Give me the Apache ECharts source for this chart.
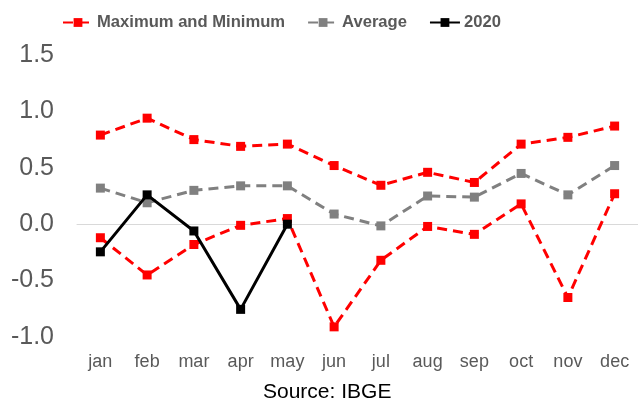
<!DOCTYPE html>
<html><head><meta charset="utf-8">
<script src="https://cdn.jsdelivr.net/npm/echarts@6/dist/echarts.min.js"></script>
<style>html,body{margin:0;padding:0;background:#fff}#c{width:638px;height:402px}</style>
</head><body><div id="c"></div>
<script>
const months = ['jan','feb','mar','apr','may','jun','jul','aug','sep','oct','nov','dec'];
const maxValues = [0.79,0.94,0.75,0.69,0.71,0.52,0.345,0.46,0.37,0.71,0.77,0.87];
const minValues = [-0.12,-0.45,-0.18,-0.01,0.05,-0.91,-0.32,-0.02,-0.09,0.18,-0.65,0.27];
const avgValues = [0.32,0.19,0.30,0.34,0.34,0.09,-0.015,0.25,0.24,0.45,0.26,0.52];
const y2020 = [-0.245,0.26,-0.06,-0.755,0.0];
const yTicks = {min:-1, max:1.5, step:0.5};

const chart = echarts.init(document.getElementById('c'));
const font = 'Liberation Sans, Arial, sans-serif';
chart.setOption({
  animation:false,
  backgroundColor:'#fff',
  legend:{
    data:['Maximum and Minimum','Average','2020'],
    left:57, top:9, itemWidth:30, itemHeight:11, itemGap:22,
    textStyle:{fontFamily:font, fontWeight:'bold', fontSize:16.6, color:'#595959', padding:[0,0,0,-1]}
  },
  title:{text:'Source: IBGE', left:263, top:382, textStyle:{fontFamily:font, fontWeight:'normal', fontSize:21, color:'#000'}, padding:0},
  grid:{left:77, right:-4, top:55, bottom:65},
  xAxis:{type:'category', data:months, boundaryGap:true,
    axisLine:{show:true, onZero:true, lineStyle:{color:'#d9d9d9', width:1}},
    axisTick:{show:false},
    axisLabel:{fontFamily:font, fontSize:18, color:'#595959', margin:16}
  },
  yAxis:{type:'value', min:yTicks.min, max:yTicks.max, interval:yTicks.step,
    splitLine:{show:false}, axisLine:{show:false}, axisTick:{show:false},
    axisLabel:{fontFamily:font, fontSize:25, color:'#595959', margin:23, formatter:v=>v.toFixed(1)}
  },
  series:[
    {name:'Maximum and Minimum', type:'line', data:maxValues, symbol:'rect', symbolSize:9,
     lineStyle:{color:'#ff0000', width:3, type:[10,6]}, itemStyle:{color:'#ff0000'}, z:2},
    {name:'Maximum and Minimum', type:'line', data:minValues, symbol:'rect', symbolSize:9,
     lineStyle:{color:'#ff0000', width:3, type:[10,6]}, itemStyle:{color:'#ff0000'}, z:2},
    {name:'Average', type:'line', data:avgValues, symbol:'rect', symbolSize:9,
     lineStyle:{color:'#808080', width:3, type:[10,6]}, itemStyle:{color:'#808080'}, z:3},
    {name:'2020', type:'line', data:y2020, symbol:'rect', symbolSize:9,
     lineStyle:{color:'#000', width:3}, itemStyle:{color:'#000'}, z:4}
  ]
});
</script></body></html>
